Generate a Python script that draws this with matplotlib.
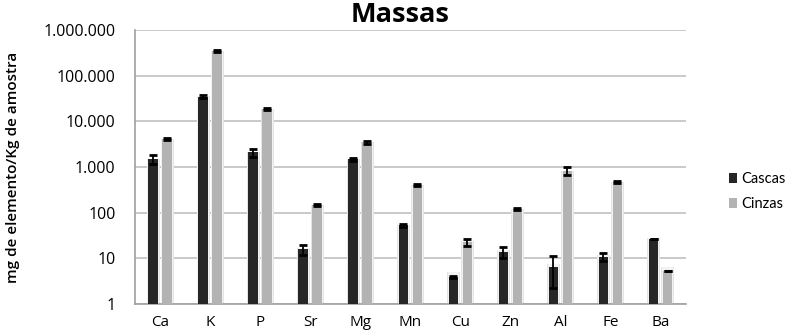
import matplotlib.pyplot as plt
import numpy as np
from matplotlib.ticker import FixedLocator, FuncFormatter

elements = ["Ca", "K", "P", "Sr", "Mg", "Mn", "Cu", "Zn", "Al", "Fe", "Ba"]
cascas = [1520, 35000, 2090, 16, 1470, 53, 4.0, 14, 6.6, 10.8, 26.5]
cascas_err = [330, 2500, 450, 4, 130, 4, 0.2, 4, 4.4, 2.0, 0]
cinzas = [4100, 350000, 18700, 147, 3500, 408, 23, 122, 830, 470, 5.4]
cinzas_err = [250, 20000, 1200, 8, 250, 20, 4, 7, 170, 30, 0]
y_ticks = [1, 10, 100, 1000, 10000, 100000, 1000000]

plt.rcParams['font.family'] = ['Open Sans', 'DejaVu Sans']

fig = plt.figure(figsize=(7.91, 3.32), dpi=100)
ax = fig.add_axes([0.1707, 0.0843, 0.696, 0.8253])

x = np.arange(len(elements))
w = 0.19
off = 0.14

# soft halo behind each bar
for xs, vals in ((x - off, cascas), (x + off, cinzas)):
    ax.bar(xs, vals, width=w + 0.07, bottom=1, color='#e4e4e4', zorder=2)
    ax.bar(xs, vals, width=w + 0.035, bottom=1, color='#f2f2f2', zorder=2)

vals_c = np.array(cascas) - 1
vals_z = np.array(cinzas) - 1
ax.bar(x - off, vals_c, width=w, bottom=1, color='#262626', label='Cascas', zorder=3)
ax.bar(x + off, vals_z, width=w, bottom=1, color='#b3b3b3', label='Cinzas', zorder=3)

ax.errorbar(x - off, cascas, yerr=cascas_err, fmt='none', ecolor='black',
            elinewidth=1.3, capsize=3, capthick=2, zorder=4)
ax.errorbar(x + off, cinzas, yerr=cinzas_err, fmt='none', ecolor='black',
            elinewidth=1.3, capsize=3, capthick=2, zorder=4)

ax.set_yscale('log')
ax.set_ylim(1, 1000000)
ax.set_xlim(-0.5, len(elements) - 0.5)
ax.yaxis.set_major_locator(FixedLocator(y_ticks))
ax.yaxis.set_minor_locator(FixedLocator([]))
ax.yaxis.set_major_formatter(FuncFormatter(lambda v, p: f"{int(round(v)):,}".replace(',', '.')))
ax.set_xticks(x)
ax.set_xticklabels(elements)

ax.grid(axis='y', color='#c0c0c0', linewidth=1.2, zorder=0)
ax.set_axisbelow(True)
for s in ('top', 'right'):
    ax.spines[s].set_visible(False)
for s in ('left', 'bottom'):
    ax.spines[s].set_color('#a0a0a0')
    ax.spines[s].set_linewidth(1.2)
ax.tick_params(axis='y', length=0, labelsize=11.5, colors='black', pad=14)
ax.tick_params(axis='x', length=0, labelsize=11, colors='black', pad=8)

ax.set_ylabel('mg de elemento/Kg de amostra', fontsize=11, fontweight='semibold', labelpad=17)

fig.text(0.506, 0.955, 'Massas', ha='center', va='center', fontsize=19.5, fontweight='bold')

ax.legend(loc='center left', bbox_to_anchor=(1.078, 0.41), frameon=False,
          prop={'family': 'Lato', 'size': 10.5}, borderpad=0, borderaxespad=0,
          handlelength=0.6, handleheight=0.6, handletextpad=0.3, labelspacing=0.75)

fig.savefig('out.png', dpi=100)
